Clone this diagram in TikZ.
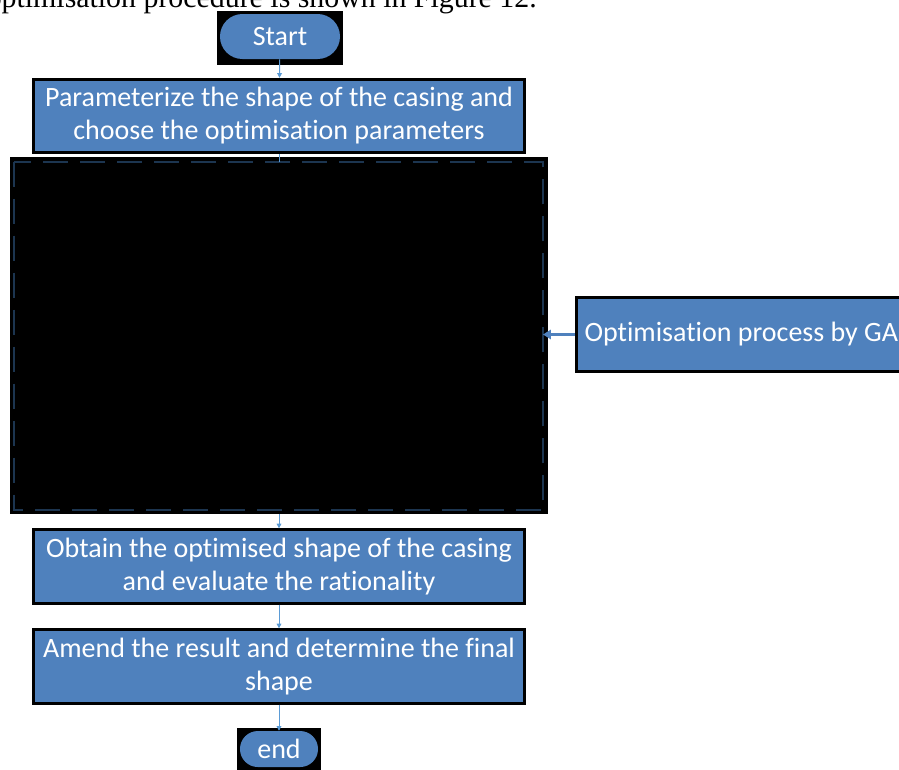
\documentclass[tikz,border=0pt]{standalone}
\usepackage{fontspec}
\setmainfont{Carlito}[Ligatures={NoCommon}]
\newfontfamily\introfont{Liberation Serif}
\usetikzlibrary{positioning,arrows.meta,backgrounds}
\definecolor{boxblue}{HTML}{4F81BD}
\definecolor{lineblue}{HTML}{5B9BD5}
\definecolor{frameblue}{HTML}{1C3550}

\begin{document}
\begin{tikzpicture}[x=0.75pt, y=-0.75pt,
  stepbox/.style={draw=black, line width=2.25pt, fill=boxblue, text=white, align=center,
    minimum width=368pt, minimum height=55pt, inner sep=0pt, font=\fontsize{21}{24.75}\selectfont},
  pill/.style={fill=boxblue, text=white, inner sep=0pt, font=\fontsize{21}{24}\selectfont},
  arr/.style={-{Triangle[length=3.5pt, width=3.5pt]}, lineblue, line width=0.75pt},
  link/.style={lineblue, line width=0.75pt},
  feed/.style={-{Triangle[length=6pt, width=7pt]}, boxblue, line width=2.25pt}]
\useasboundingbox (0,0) rectangle (899,769);
\clip (0,0) rectangle (899,769);
% cut-off line of the running text
\node[anchor=base east, inner sep=0pt, font=\introfont\fontsize{22.4}{26}\selectfont] (intro) at (537,7)
  {optimisation procedure is shown in Figure 12.};
% flow
\node[pill, minimum width=90pt, minimum height=33.75pt, rounded corners=16.8pt] (start) at (280,36.5) {Start};
\node[stepbox] (param) at (279,116) {Parameterize the shape of the casing and\\choose the optimisation parameters};
\node[fill=black, minimum width=403.5pt, minimum height=267.75pt, inner sep=0pt] (loop) at (279,335.5) {};
\draw[frameblue, line width=1.5pt, dash pattern=on 18.75pt off 9pt]
  ([shift={(4,5)}]loop.north west) rectangle ([shift={(-5,-4)}]loop.south east);
\node[stepbox, anchor=west, minimum width=0pt, align=flush left, text width=300pt, inner xsep=6pt] (ga) at (575,334.5) {Optimisation process by GA};
\node[stepbox] (obtain) at (279,566.5) {Obtain the optimised shape of the casing\\and evaluate the rationality};
\node[stepbox] (amend) at (279,666.5) {Amend the result and determine the final\\shape};
\node[pill, minimum width=58.5pt, minimum height=27pt, rounded corners=13.4pt] (end) at (279,749) {end};
% black frames behind the two ends
\begin{scope}[on background layer]
  \fill[black] ([shift={(-3,-3)}]start.north west) rectangle ([shift={(3,6)}]start.south east);
  \fill[black] ([shift={(-3,-3)}]end.north west) rectangle ([shift={(3,3)}]end.south east);
\end{scope}
\draw[arr] (start) -- (param);
\draw[link] (param) -- ([yshift=-4pt]loop.north);
\draw[arr] (loop) -- (obtain);
\draw[arr] (obtain) -- (amend);
\draw[arr] (amend) -- (end);
\draw[feed] (ga.west) -- ([xshift=-4pt]ga.west -| loop.east);
\end{tikzpicture}
\end{document}
